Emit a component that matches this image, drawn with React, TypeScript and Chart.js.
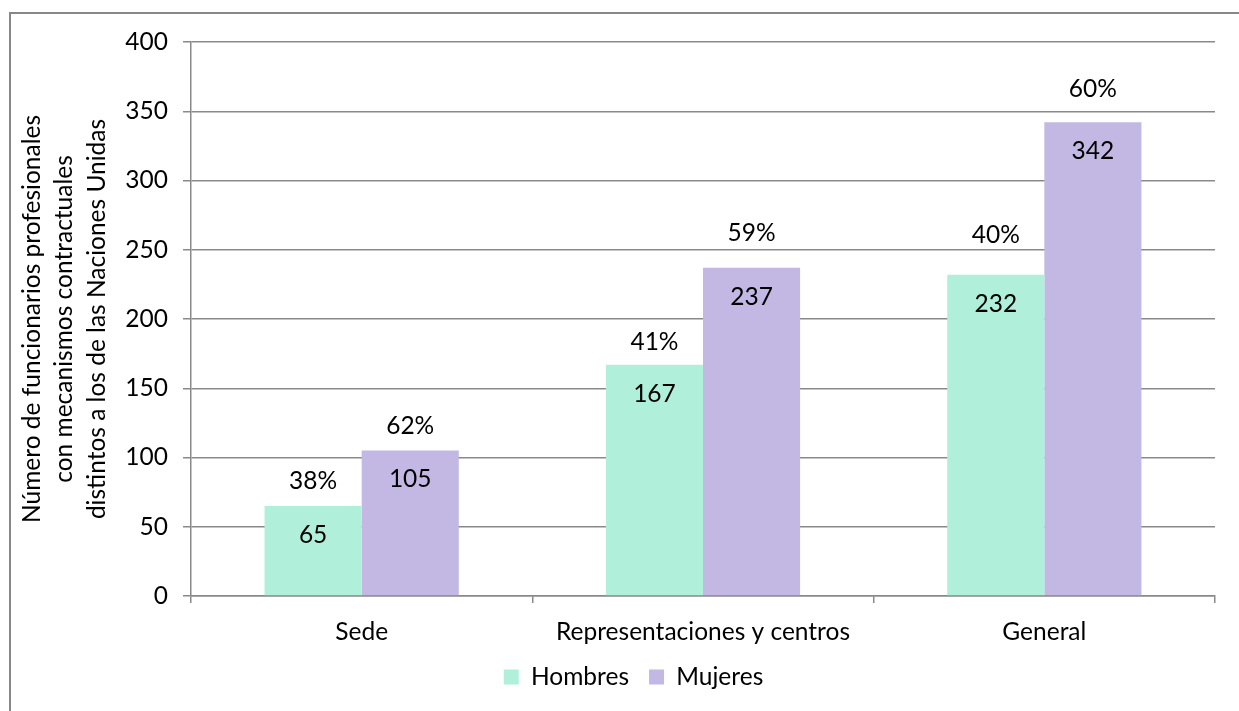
import React, { useEffect, useRef } from "react";
import { Chart, registerables } from "chart.js";

Chart.register(...registerables);

const categories = ["Sede", "Representaciones y centros", "General"];
const hombres = [65, 167, 232];
const mujeres = [105, 237, 342];
const hombresPct = ["38%", "41%", "40%"];
const mujeresPct = ["62%", "59%", "60%"];
const seriesNames = ["Hombres", "Mujeres"];
const yTitle = [
  "Número de funcionarios profesionales",
  "con mecanismos contractuales",
  "distintos a los de las Naciones Unidas",
];

// label placement (pixels above bar top for percentage labels)
const PCT_OFFSETS = [
  [25, 23, 40],
  [24, 35, 33],
];
const VALUE_OFFSET = 29;

const FONT = "Lato, 'Open Sans', sans-serif";
const FS = 24.5;
const GRID = "#898989";
const TITLE_X0 = 32;
const TITLE_LINE = 32.5;

const labelsPlugin = {
  id: "barLabels",
  afterDatasetsDraw(chart: any) {
    const ctx = chart.ctx;
    const pcts = [hombresPct, mujeresPct];
    ctx.save();
    ctx.font = `${FS}px ${FONT}`;
    ctx.fillStyle = "#000";
    ctx.textAlign = "center";
    ctx.textBaseline = "middle";
    chart.data.datasets.forEach((ds: any, di: number) => {
      const meta = chart.getDatasetMeta(di);
      meta.data.forEach((bar: any, i: number) => {
        ctx.fillText(String(ds.data[i]), bar.x, bar.y + VALUE_OFFSET);
        ctx.fillText(pcts[di][i], bar.x, bar.y - PCT_OFFSETS[di][i]);
      });
    });
    ctx.restore();
  },
};

const yTitlePlugin = {
  id: "yTitle",
  afterDraw(chart: any) {
    const ctx = chart.ctx;
    const { top, bottom } = chart.chartArea;
    const cy = (top + bottom) / 2;
    ctx.save();
    ctx.font = `${FS}px ${FONT}`;
    ctx.fillStyle = "#000";
    ctx.textAlign = "center";
    ctx.textBaseline = "middle";
    yTitle.forEach((line, i) => {
      ctx.save();
      ctx.translate(TITLE_X0 + i * TITLE_LINE, cy);
      ctx.rotate(-Math.PI / 2);
      ctx.fillText(line, 0, 0);
      ctx.restore();
    });
    ctx.restore();
  },
};

export default function App() {
  const ref = useRef<HTMLCanvasElement>(null);
  useEffect(() => {
    let chart: Chart | null = null;
    let cancelled = false;
    const make = () => {
      if (cancelled || !ref.current) return;
      chart = new Chart(ref.current, {
        type: "bar",
        data: {
          labels: categories,
          datasets: [
            {
              label: seriesNames[0],
              data: hombres,
              backgroundColor: "#b0f0da",
              borderWidth: 0,
              categoryPercentage: 0.569,
              barPercentage: 1,
            },
            {
              label: seriesNames[1],
              data: mujeres,
              backgroundColor: "#c3b8e4",
              borderWidth: 0,
              categoryPercentage: 0.569,
              barPercentage: 1,
            },
          ],
        },
        options: {
          animation: false,
          responsive: false,
          devicePixelRatio: 1,
          layout: { padding: { top: 42, right: 24, bottom: 11.75, left: 52 } },
          plugins: {
            legend: {
              position: "bottom",
              labels: {
                boxWidth: 15,
                boxHeight: 15,
                padding: 20,
                color: "#000",
                font: { family: FONT, size: FS },
              },
            },
            tooltip: { enabled: false },
          },
          scales: {
            x: {
              afterFit(scale: any) {
                scale.height = 48.75;
              },
              grid: {
                display: true,
                drawOnChartArea: false,
                drawTicks: true,
                tickLength: 7,
                color: GRID,
                lineWidth: 1.5,
                offset: true,
              },
              border: { display: true, color: GRID, width: 1.5 },
              ticks: {
                color: "#000",
                padding: 14,
                font: { family: FONT, size: FS },
              },
            },
            y: {
              min: 0,
              max: 400,
              afterFit(scale: any) {
                scale.width = 139;
              },
              ticks: {
                stepSize: 50,
                color: "#000",
                padding: 15,
                font: { family: FONT, size: FS },
              },
              grid: {
                color: GRID,
                lineWidth: 1.5,
                tickLength: 8,
                drawTicks: true,
              },
              border: { display: true, color: GRID, width: 1.5 },
              title: { display: false },
            },
          },
        },
        plugins: [labelsPlugin, yTitlePlugin],
      });
    };
    const fonts: any = (document as any).fonts;
    if (fonts && fonts.load) {
      fonts.load(`${FS}px Lato`).then(make, make);
    } else {
      make();
    }
    return () => {
      cancelled = true;
      if (chart) chart.destroy();
    };
  }, []);

  return (
    <div
      style={{
        position: "fixed",
        left: 0,
        top: 0,
        width: 1239,
        height: 711,
        overflow: "hidden",
        background: "#fff",
      }}
    >
      <div
        style={{
          position: "absolute",
          left: 9,
          top: 12,
          width: 1400,
          height: 900,
          border: "2px solid #878787",
        }}
      />
      <canvas
        ref={ref}
        width={1239}
        height={711}
        style={{ position: "absolute", left: 0, top: 0, width: 1239, height: 711 }}
      />
    </div>
  );
}
